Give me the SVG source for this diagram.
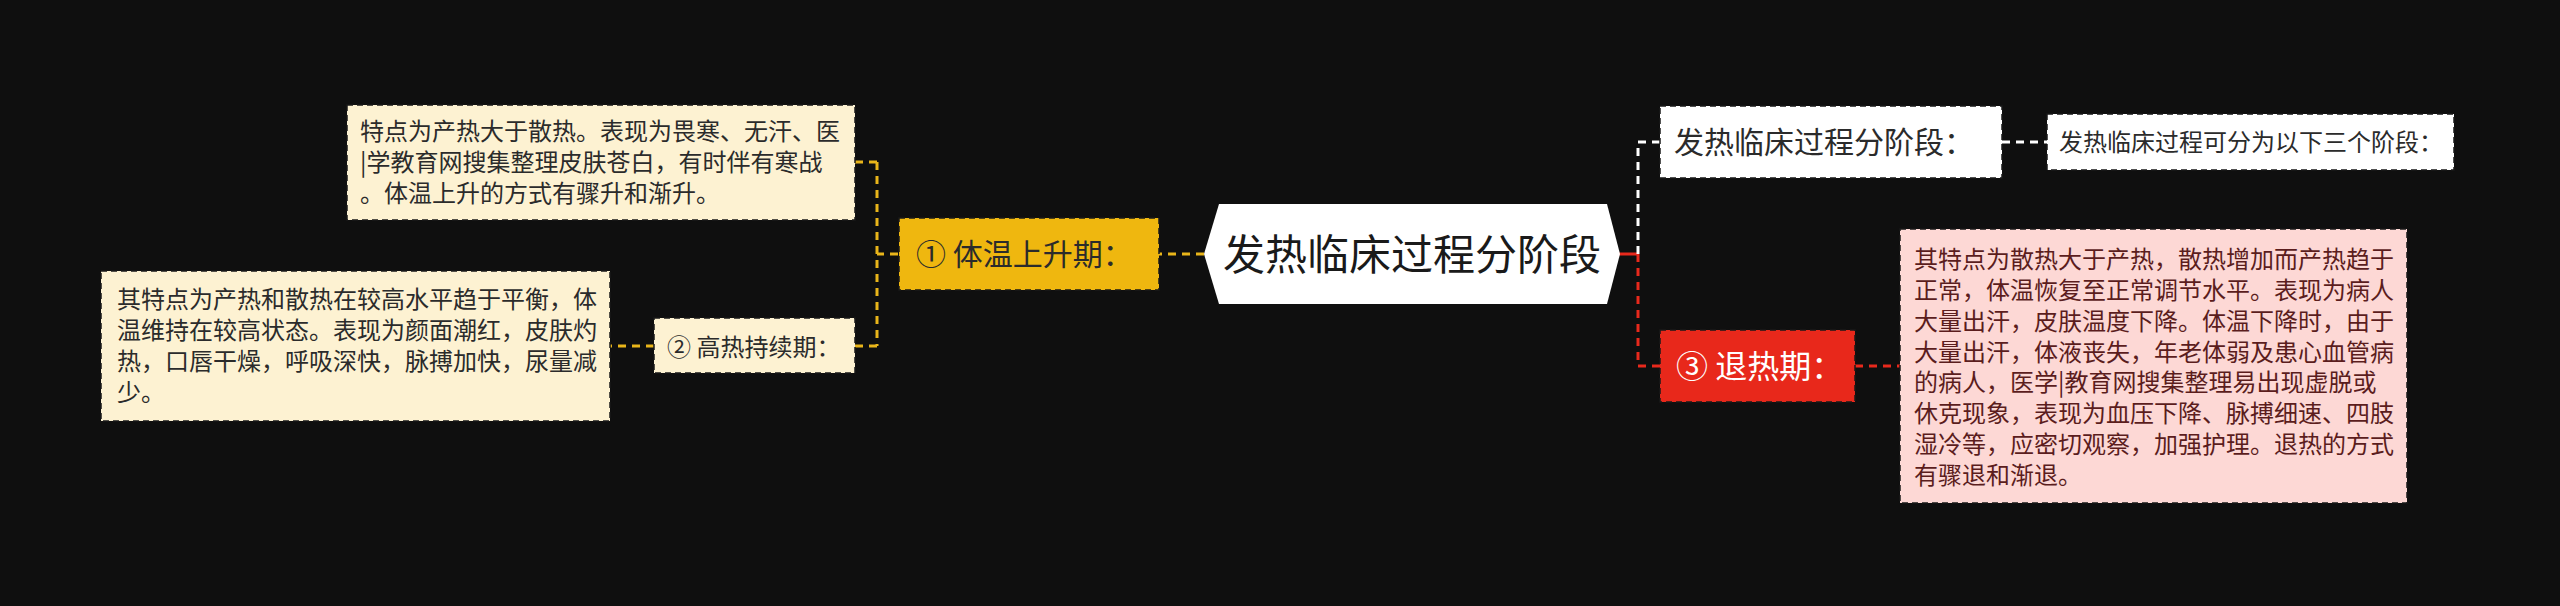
<svg xmlns="http://www.w3.org/2000/svg" width="2560" height="606" viewBox="0 0 2560 606">
<style>
.t{font-family:"Noto Sans CJK SC","Noto Sans",sans-serif;}
.box{stroke:#1a1a1a;stroke-width:1.5;stroke-dasharray:6 4;}
.cy{fill:none;stroke:#e9b51a;stroke-width:3;stroke-dasharray:8 6;}
.cw{fill:none;stroke:#ffffff;stroke-width:3;stroke-dasharray:8 6;}
.cr{fill:none;stroke:#e8291c;stroke-width:3;stroke-dasharray:8 6;}
</style>
<rect width="2560" height="606" fill="#0f0f0f"/>
<g id="connectors">
<line class="cy" x1="1204" y1="254" x2="1159" y2="254"/>
<path class="cy" d="M898,254 H877 M877,162 V346 M877,162 H855 M877,346 H855"/>
<line class="cy" x1="654" y1="346" x2="610" y2="346"/>
<line x1="1618" y1="254" x2="1638" y2="254" stroke="#e8291c" stroke-width="3"/>
<path class="cw" d="M1638,254 V142 H1660"/>
<path class="cr" d="M1638,254 V366 H1660"/>
<line class="cw" x1="2002" y1="142" x2="2047" y2="142"/>
<line class="cr" x1="1855" y1="366" x2="1900" y2="366"/>
</g>
<g id="center">
<polygon points="1204,254 1219,204 1607,204 1620,254 1607,304 1219,304" fill="#ffffff"/>
<text class="t" x="1412" y="270" font-size="42" fill="#1a1a1a" text-anchor="middle">发热临床过程分阶段</text>
</g>
<g id="n1">
<rect class="box" x="899" y="218" width="260" height="72" fill="#efb70f"/>
<text class="t" x="916" y="265" font-size="30" fill="#2b2b2b">① 体温上升期：</text>
</g>
<g id="nA">
<rect class="box" x="347" y="105" width="508" height="115" fill="#fdf2d2"/>
<text class="t" font-size="24" fill="#2b2b2b">
<tspan x="360" y="140">特点为产热大于散热。表现为畏寒、无汗、医</tspan>
<tspan x="360" y="171">|学教育网搜集整理皮肤苍白，有时伴有寒战</tspan>
<tspan x="360" y="202">。体温上升的方式有骤升和渐升。</tspan>
</text>
</g>
<g id="n2">
<rect class="box" x="654" y="318" width="201" height="55" fill="#fdf2d2"/>
<text class="t" x="667" y="356" font-size="24" fill="#2b2b2b">② 高热持续期：</text>
</g>
<g id="nB">
<rect class="box" x="101" y="271" width="509" height="150" fill="#fdf2d2"/>
<text class="t" font-size="24" fill="#2b2b2b">
<tspan x="117" y="308">其特点为产热和散热在较高水平趋于平衡，体</tspan>
<tspan x="117" y="339">温维持在较高状态。表现为颜面潮红，皮肤灼</tspan>
<tspan x="117" y="370">热，口唇干燥，呼吸深快，脉搏加快，尿量减</tspan>
<tspan x="117" y="401">少。</tspan>
</text>
</g>
<g id="n3">
<rect class="box" x="1660" y="106" width="342" height="72" fill="#ffffff"/>
<text class="t" x="1674" y="153" font-size="30" fill="#2b2b2b">发热临床过程分阶段：</text>
</g>
<g id="n4">
<rect class="box" x="2047" y="114" width="407" height="56" fill="#ffffff"/>
<text class="t" x="2059" y="151" font-size="24" fill="#2b2b2b">发热临床过程可分为以下三个阶段：</text>
</g>
<g id="n5">
<rect class="box" x="1660" y="330" width="195" height="72" fill="#e8281b"/>
<text class="t" x="1676" y="378" font-size="32" fill="#ffffff">③ 退热期：</text>
</g>
<g id="nC">
<rect class="box" x="1900" y="229" width="507" height="274" fill="#fdd8d5"/>
<text class="t" font-size="24" fill="#5b1d1d">
<tspan x="1914" y="268">其特点为散热大于产热，散热增加而产热趋于</tspan>
<tspan x="1914" y="299">正常，体温恢复至正常调节水平。表现为病人</tspan>
<tspan x="1914" y="330">大量出汗，皮肤温度下降。体温下降时，由于</tspan>
<tspan x="1914" y="361">大量出汗，体液丧失，年老体弱及患心血管病</tspan>
<tspan x="1914" y="391">的病人，医学|教育网搜集整理易出现虚脱或</tspan>
<tspan x="1914" y="422">休克现象，表现为血压下降、脉搏细速、四肢</tspan>
<tspan x="1914" y="453">湿冷等，应密切观察，加强护理。退热的方式</tspan>
<tspan x="1914" y="484">有骤退和渐退。</tspan>
</text>
</g>
</svg>
